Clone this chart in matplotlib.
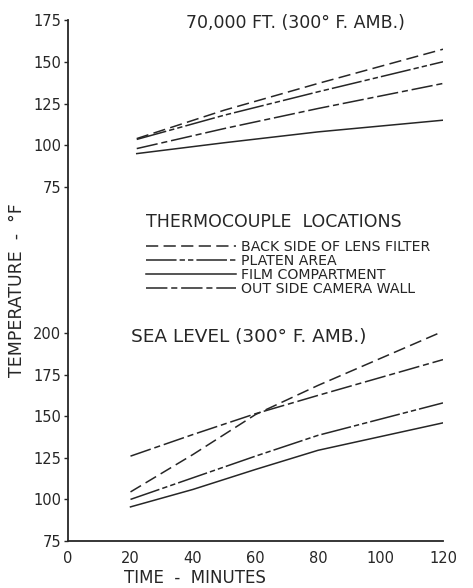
import matplotlib
matplotlib.use("Agg")
import matplotlib.pyplot as plt

plt.rcParams["font.family"] = ["DejaVu Sans"]

INK = "#262626"

# 70,000 ft panel (minutes, deg F)
t_top = [22, 50, 80, 120]
lens_top = [104, 121, 137, 157.5]
platen_top = [103.5, 118, 132, 150]
wall_top = [98, 110, 122, 137]
film_top = [95, 101.5, 108, 115]

# sea level panel
t_sea = [20, 40, 60, 80, 120]
lens_sea = [104.5, 127, 151, 168.5, 201]
wall_sea = [126, 139, 151.5, 162.5, 184]
platen_sea = [100, 113, 126, 138.5, 158]
film_sea = [95.5, 106, 118, 129.5, 146]

labels = ["BACK SIDE OF LENS FILTER", "PLATEN AREA",
          "FILM COMPARTMENT", "OUT SIDE CAMERA WALL"]
styles = [(0, (8, 3.5)), (0, (20, 2, 3.5, 2, 3.5, 2)), "-", (0, (14, 2.5, 4, 2.5))]

W, H = 473, 588
fig = plt.figure(figsize=(W / 100, H / 100), dpi=100)

def box(x0, y0, x1, y1):
    # pixel box (top-left origin) -> figure fraction rect
    return [x0 / W, 1 - y1 / H, (x1 - x0) / W, (y1 - y0) / H]

# frame holding the long left spine and the time axis
frame = fig.add_axes(box(68, 20, 443, 541))
frame.set_xlim(0, 120)
frame.set_ylim(0, 1)
frame.set_yticks([])
frame.set_xticks([0, 20, 40, 60, 80, 100, 120])
frame.tick_params(axis="x", length=0, pad=7, labelsize=10.5, colors=INK)
for s in ["top", "right"]:
    frame.spines[s].set_visible(False)
for s in ["left", "bottom"]:
    frame.spines[s].set_linewidth(1.3)
    frame.spines[s].set_color(INK)

ax_top = fig.add_axes(box(68, 20, 443, 187))
ax_sea = fig.add_axes(box(68, 333, 443, 541))
for ax, lo, hi in [(ax_top, 75, 175), (ax_sea, 75, 200)]:
    ax.patch.set_visible(False)
    for s in ax.spines.values():
        s.set_visible(False)
    ax.set_xlim(0, 120)
    ax.set_ylim(lo, hi)
    ax.set_yticks(range(lo, hi + 1, 25))
    ax.set_xticks([])
    ax.tick_params(axis="y", length=3, width=1, pad=2, labelsize=10.5, colors=INK)

handles = []
for y, ls, lab in zip([lens_top, platen_top, film_top, wall_top], styles, labels):
    h, = ax_top.plot(t_top, y, color=INK, lw=1.1, ls=ls, label=lab)
    handles.append(h)
for y, ls in zip([lens_sea, platen_sea, film_sea, wall_sea], styles):
    ax_sea.plot(t_sea, y, color=INK, lw=1.1, ls=ls)

fig.text(295 / W, 1 - 23 / H, "70,000 FT. (300° F. AMB.)", ha="center", va="center",
         fontsize=12.5, color=INK)
fig.text(131 / W, 1 - 337 / H, "SEA LEVEL (300° F. AMB.)", ha="left", va="center",
         fontsize=13.3, color=INK)
fig.text(17 / W, 1 - 290 / H, "TEMPERATURE  -  °F", rotation=90, ha="center", va="center",
         fontsize=12.5, color=INK)
fig.text(195 / W, 1 - 578 / H, "TIME  -  MINUTES", ha="center", va="center",
         fontsize=12, color=INK)
fig.text(146 / W, 1 - 222 / H, "THERMOCOUPLE  LOCATIONS", ha="left", va="center",
         fontsize=12.5, color=INK)

leg = fig.legend(handles, labels, loc="upper left", bbox_to_anchor=(140 / W, 1 - 234 / H),
                 frameon=False, fontsize=10.2, handlelength=6.4, handletextpad=0.3,
                 labelspacing=0.0, borderaxespad=0)
for txt in leg.get_texts():
    txt.set_color(INK)

fig.savefig("out.png", dpi=100, facecolor="white")
